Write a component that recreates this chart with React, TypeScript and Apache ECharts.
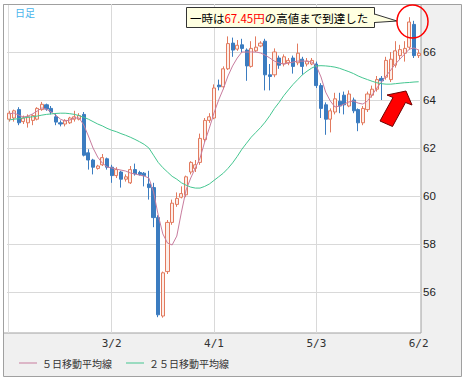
import React, { useEffect, useRef } from 'react';
import * as echarts from 'echarts';

const dates = [
  '1/29',
  '2/1', '2/2', '2/3', '2/4', '2/5', '2/8', '2/9', '2/10', '2/11', '2/12', '2/15', '2/16', '2/17', '2/18', '2/19', '2/22', '2/23', '2/24', '2/25', '2/26',
  '3/1', '3/2', '3/3', '3/4', '3/5', '3/8', '3/9', '3/10', '3/11', '3/12', '3/15', '3/16', '3/17', '3/18', '3/19', '3/22', '3/23', '3/24', '3/25', '3/26', '3/29', '3/30', '3/31',
  '4/1', '4/2', '4/5', '4/6', '4/7', '4/8', '4/9', '4/12', '4/13', '4/14', '4/15', '4/16', '4/19', '4/20', '4/21', '4/22', '4/23', '4/26', '4/27', '4/28', '4/29', '4/30',
  '5/3', '5/4', '5/5', '5/6', '5/7', '5/10', '5/11', '5/12', '5/13', '5/14', '5/17', '5/18', '5/19', '5/20', '5/21', '5/24', '5/25', '5/26', '5/27', '5/28', '5/31',
  '6/1', '6/2',
];

const opens = [
  63.20, 63.25, 63.60, 63.10, 63.05, 63.15, 63.20, 63.60, 63.80, 63.65,
  63.30, 63.05, 63.00, 63.05, 63.20, 63.20, 63.40, 61.80, 61.50, 61.15,
  61.30, 61.55, 61.20, 60.85, 61.00, 60.70, 60.55, 61.10, 60.98, 60.95,
  60.50, 60.35, 59.10, 55.00, 56.85, 58.90, 59.65, 59.95, 60.05, 61.00,
  61.15, 61.40, 62.35, 63.15, 63.25, 64.62, 64.55, 65.30, 66.37, 66.12,
  66.30, 66.08, 65.40, 66.05, 66.25, 66.45, 65.05, 65.05, 65.75, 65.50,
  65.55, 65.75, 65.55, 65.70, 65.50, 65.50, 65.50, 64.60, 63.80, 63.20,
  63.50, 63.95, 64.20, 63.75, 64.00, 63.60, 63.05, 63.60, 64.20, 64.45,
  64.90, 64.95, 64.85, 65.45, 65.85, 65.95, 66.20, 67.15, 65.85,
];
const closes = [
  63.45, 63.55, 63.05, 63.25, 63.30, 63.35, 63.65, 63.82, 63.62, 63.50,
  63.08, 63.00, 63.15, 63.25, 63.30, 63.35, 61.70, 61.50, 61.20, 61.25,
  61.60, 61.20, 60.85, 61.10, 60.70, 60.80, 61.10, 60.92, 60.90, 60.85,
  60.35, 59.10, 55.05, 56.80, 58.90, 59.70, 59.90, 60.10, 60.80, 61.40,
  61.30, 62.40, 63.15, 63.30, 64.50, 64.55, 65.30, 66.35, 66.08, 66.28,
  66.15, 65.42, 66.15, 66.20, 66.37, 65.05, 64.98, 66.00, 65.45, 65.80,
  65.65, 65.40, 65.95, 65.40, 65.62, 65.65, 64.60, 63.65, 63.20, 63.55,
  64.05, 63.75, 63.80, 64.25, 63.55, 63.05, 63.65, 64.25, 64.45, 64.85,
  64.80, 65.65, 65.70, 66.05, 66.10, 66.15, 67.25, 65.85, 65.95,
];
const lows = [
  63.10, 63.10, 62.95, 63.00, 62.85, 62.95, 63.15, 63.55, 63.55, 63.40,
  62.95, 62.90, 62.90, 63.00, 63.10, 63.15, 61.65, 61.10, 60.90, 61.10,
  61.25, 61.10, 60.55, 60.75, 60.35, 60.60, 60.50, 60.85, 60.85, 60.40,
  59.85, 58.70, 54.95, 54.93, 56.75, 58.80, 59.55, 59.90, 59.95, 60.90,
  61.00, 61.30, 62.25, 63.05, 63.20, 64.40, 64.45, 65.25, 65.80, 66.05,
  66.00, 64.80, 65.35, 66.00, 66.20, 64.40, 64.40, 64.95, 65.30, 65.40,
  65.45, 65.10, 65.45, 65.05, 65.40, 65.45, 64.50, 63.25, 62.55, 62.65,
  63.40, 63.45, 63.40, 63.70, 63.45, 62.70, 62.95, 63.50, 64.10, 64.35,
  64.00, 64.85, 64.75, 65.35, 65.70, 65.60, 66.10, 65.75, 65.75,
];
const highs = [
  63.55, 63.60, 63.70, 63.35, 63.40, 63.40, 63.70, 63.92, 63.85, 63.75,
  63.45, 63.15, 63.20, 63.30, 63.55, 63.45, 63.50, 61.95, 61.55, 61.30,
  61.75, 61.60, 61.30, 61.20, 61.05, 60.90, 61.25, 61.35, 61.05, 61.00,
  61.05, 60.55, 59.20, 56.85, 59.00, 59.85, 60.15, 60.40, 60.85, 61.45,
  61.50, 62.60, 63.25, 63.45, 64.65, 64.85, 65.40, 66.65, 66.60, 66.50,
  66.55, 66.15, 66.45, 66.65, 66.45, 66.55, 65.50, 66.15, 65.85, 65.90,
  65.75, 65.85, 66.35, 65.80, 65.75, 65.75, 65.60, 64.70, 63.90, 63.65,
  64.30, 64.30, 64.35, 64.40, 64.10, 63.65, 63.75, 64.35, 64.60, 65.00,
  65.00, 65.80, 66.00, 66.45, 66.30, 66.45, 67.45, 67.30, 66.10,
];

const ma5 = [
  63.42, 63.46, 63.37, 63.29, 63.33, 63.42, 63.54, 63.67, 63.62, 63.50,
  63.37, 63.20, 63.12, 63.17, 63.25, 63.25, 62.96, 62.50, 62.00, 61.62,
  61.37, 61.21, 61.17, 61.12, 61.08, 61.04, 60.96, 60.92, 60.87, 60.83,
  60.75, 60.17, 59.21, 58.42, 58.04, 57.96, 58.33, 59.33, 60.25, 60.75,
  61.17, 61.58, 62.25, 62.83, 63.46, 64.00, 64.46, 65.00, 65.42, 65.75,
  66.00, 66.00, 66.00, 66.00, 65.96, 65.87, 65.75, 65.62, 65.54, 65.50,
  65.54, 65.58, 65.62, 65.62, 65.62, 65.58, 65.42, 64.96, 64.33, 63.96,
  63.71, 63.75, 63.83, 63.92, 63.96, 63.87, 63.83, 63.96, 64.21, 64.50,
  64.75, 65.00, 65.25, 65.50, 65.71, 65.92, 66.12, 66.17, 66.08,
];
const ma25 = [
  63.17, 63.20, 63.22, 63.25, 63.28, 63.30, 63.33, 63.37, 63.40, 63.42,
  63.44, 63.45, 63.45, 63.43, 63.40, 63.35, 63.28, 63.20, 63.10, 63.00,
  62.92, 62.82, 62.74, 62.68, 62.60, 62.53, 62.45, 62.36, 62.26, 62.15,
  62.00, 61.70, 61.40, 61.18, 61.00, 60.82, 60.70, 60.55, 60.45, 60.37,
  60.33, 60.33, 60.40, 60.50, 60.65, 60.80, 60.95, 61.15, 61.38, 61.65,
  61.95, 62.20, 62.45, 62.65, 62.85, 63.08, 63.35, 63.65, 63.90, 64.18,
  64.42, 64.65, 64.85, 65.05, 65.20, 65.33, 65.42, 65.43, 65.42, 65.40,
  65.37, 65.32, 65.25, 65.18, 65.10, 65.00, 64.92, 64.85, 64.78, 64.72,
  64.68, 64.66, 64.66, 64.68, 64.70, 64.72, 64.73, 64.75, 64.76,
];

const monthMarks = ['3/2', '4/1', '5/3'];
const legendNames = ['５日移動平均線', '２５日移動平均線'];
const chartTitle = '日足';
const note = ['一時は', '67.45円', 'の高値まで到達した'];

export default function App() {
  const ref = useRef<HTMLDivElement>(null);
  useEffect(() => {
    const chart = echarts.init(ref.current as HTMLDivElement, null, { renderer: 'svg' });
    const candle = dates.map((_, i) => [opens[i], closes[i], lows[i], highs[i]]);
    const last = dates.length - 1;
    chart.setOption({
      animation: false,
      backgroundColor: '#ffffff',
      textStyle: { fontFamily: '"Liberation Sans", Arial, sans-serif' },
      grid: { left: 7, right: 45, top: 4, bottom: 38 },
      legend: {
        data: legendNames,
        left: 14,
        top: 353,
        icon: 'rect',
        itemWidth: 18,
        itemHeight: 1,
        itemGap: 14,
        selectedMode: false,
        textStyle: { fontSize: 10, color: '#333', fontFamily: '"Noto Sans CJK JP", sans-serif' },
      },
      xAxis: {
        type: 'category',
        data: dates,
        boundaryGap: true,
        offset: -2,
        axisLine: { show: false },
        axisTick: { show: false },
        splitLine: { show: false },
        axisLabel: {
          interval: (i: number) => i > 0 && (last - i) % 22 === 0,
          margin: 0,
          color: '#333',
          fontSize: 11,
          fontFamily: '"DejaVu Sans Mono", monospace',
        },
      },
      yAxis: {
        type: 'value',
        position: 'right',
        min: 54,
        max: 68,
        interval: 2,
        axisLine: { show: false },
        axisTick: { show: false },
        splitLine: {
          show: true,
          showMinLine: false,
          showMaxLine: false,
          lineStyle: { color: '#d9d9d9', width: 1 },
        },
        axisLabel: {
          showMinLabel: false,
          showMaxLabel: false,
          margin: 2,
          color: '#222',
          fontSize: 11.5,
        },
      },
      series: [
        {
          type: 'candlestick',
          name: '日足',
          data: candle,
          barWidth: 3.6,
          itemStyle: {
            color: '#fdeee8',
            color0: '#3b7cc0',
            borderColor: '#e27a5e',
            borderColor0: '#3b7cc0',
            borderWidth: 1,
          },
          markLine: {
            silent: true,
            z: 1,
            symbol: ['none', 'none'],
            label: { show: false },
            lineStyle: { color: '#d9d9d9', type: 'solid', width: 1 },
            data: monthMarks.map((d) => [
              { xAxis: d, yAxis: 54.29 },
              { xAxis: d, yAxis: 68 },
            ]),
          },
        },
        {
          type: 'line',
          name: legendNames[0],
          data: ma5,
          symbol: 'none',
          z: 3,
          lineStyle: { color: '#c87c9e', width: 1 },
          itemStyle: { color: '#c87c9e' },
        },
        {
          type: 'line',
          name: legendNames[1],
          data: ma25,
          symbol: 'none',
          z: 3,
          lineStyle: { color: '#44c690', width: 1 },
          itemStyle: { color: '#44c690' },
        },
      ],
      graphic: [
        {
          type: 'rect', z: -10, silent: true,
          shape: { x: 3.5, y: 4.5, width: 458, height: 372 },
          style: { fill: '#f0f0f0', stroke: '#a0a0a0', lineWidth: 1 },
        },
        {
          type: 'rect', z: -9, silent: true,
          shape: { x: 3.5, y: 4.5, width: 417.5, height: 328.5 },
          style: { fill: '#ffffff', stroke: '#a0a0a0', lineWidth: 1 },
        },
        {
          type: 'line', z: -8, silent: true,
          shape: { x1: 8.5, y1: 5, x2: 8.5, y2: 333 },
          style: { stroke: '#dcdcdc', lineWidth: 1 },
        },
        {
          type: 'text', z: 10, left: 15, top: 7,
          style: { text: chartTitle, fill: '#4ab4ec', fontSize: 10, fontFamily: '"Noto Sans CJK JP", sans-serif' },
        },
        {
          type: 'polygon', z: 20, silent: true,
          shape: { points: [[374, 14], [397, 21], [374, 22.5]] },
          style: { fill: '#ffffe1' },
        },
        {
          type: 'rect', z: 20, silent: true,
          shape: { x: 186.5, y: 7.5, width: 188, height: 20 },
          style: { fill: '#ffffe1', stroke: '#333333', lineWidth: 1 },
        },
        {
          type: 'line', z: 21, silent: true,
          shape: { x1: 374.5, y1: 14.6, x2: 374.5, y2: 22 },
          style: { stroke: '#ffffe1', lineWidth: 1.6 },
        },
        {
          type: 'polyline', z: 21, silent: true,
          shape: { points: [[374.5, 14], [397, 21], [374.5, 22.5]] },
          style: { stroke: '#333333', fill: 'none', lineWidth: 1 },
        },
        {
          type: 'text', z: 22, x: 190, y: 17.5,
          style: {
            text: `{a|${note[0]}}{r|${note[1]}}{a|${note[2]}}`,
            verticalAlign: 'middle',
            rich: {
              a: { fill: '#000000', fontSize: 11.5, fontFamily: '"Noto Sans CJK JP", sans-serif' },
              r: { fill: '#ff0000', fontSize: 11.5, fontFamily: '"Noto Sans CJK JP", sans-serif' },
            },
          },
        },
        {
          type: 'ellipse', z: 22, silent: true,
          shape: { cx: 412.5, cy: 21.5, rx: 15.5, ry: 16.5 },
          style: { fill: 'none', stroke: '#ff0000', lineWidth: 1.5 },
        },
        {
          type: 'polygon', z: 22, silent: true,
          shape: {
            points: [[406, 91], [412, 105], [405.5, 102.5], [392.5, 126.5], [380, 121], [393, 97.5], [387, 95]],
          },
          style: { fill: '#ff0000', stroke: '#700000', lineWidth: 1 },
        },
      ],
    });
    return () => chart.dispose();
  }, []);
  return <div ref={ref} style={{ position: 'fixed', left: 0, top: 0, width: 466, height: 378 }} />;
}
